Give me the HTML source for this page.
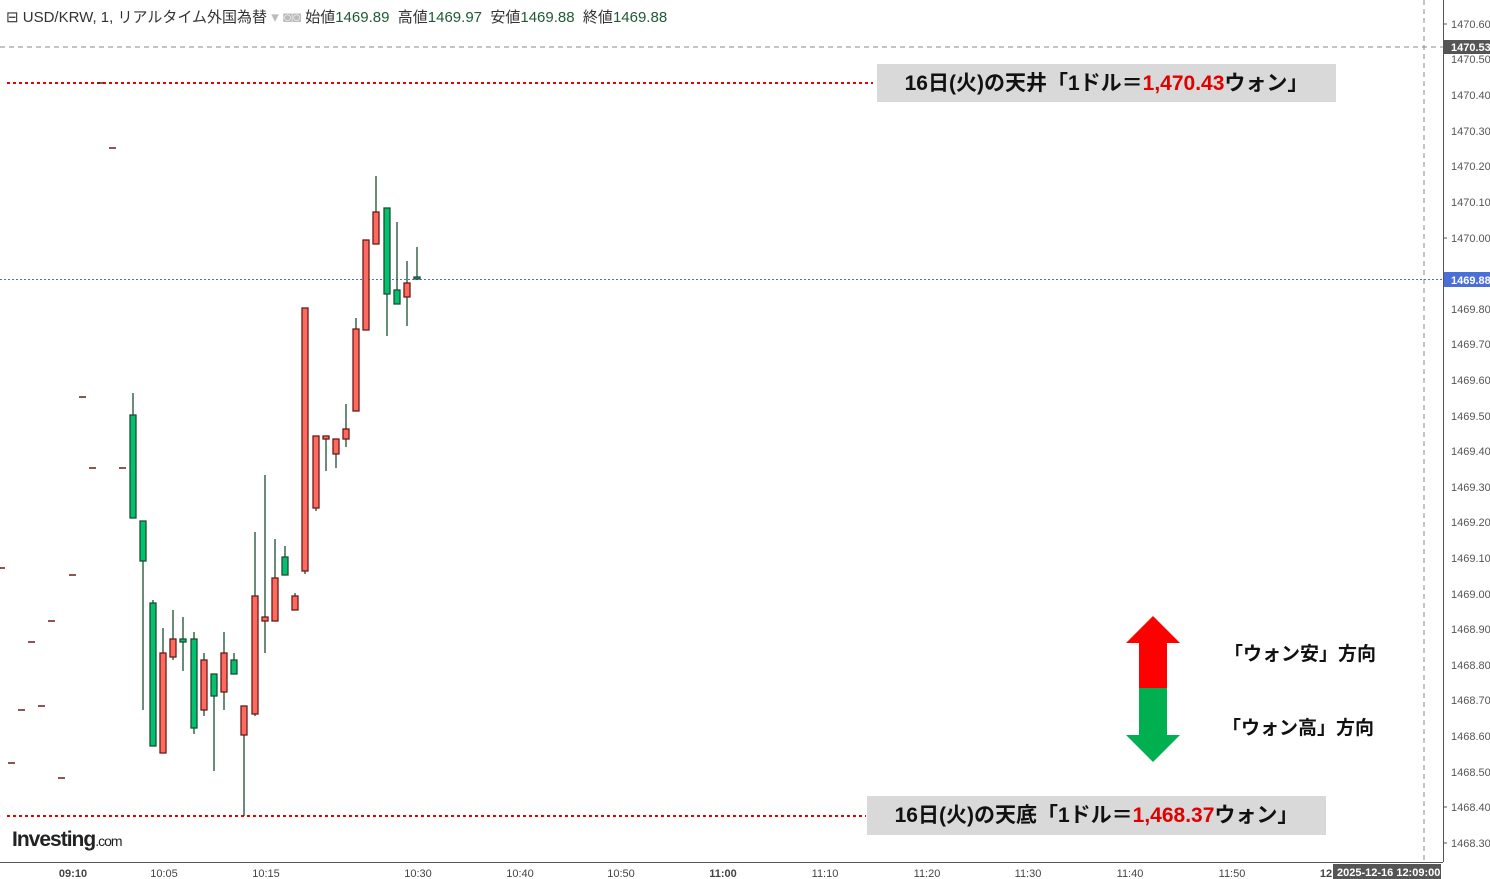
<!DOCTYPE html>
<html><head><meta charset="utf-8"><style>
body{margin:0;background:#fff;width:1490px;height:879px;overflow:hidden;position:relative;font-family:"Liberation Sans","Noto Sans CJK JP",sans-serif}
.hdr{position:absolute;left:6px;top:6px;font-size:15px;color:#333;white-space:nowrap}
.hdr .g{color:#1e5a33}
.box{position:absolute;background:#d9d9d9;font-weight:bold;font-size:21px;color:#111;text-align:center;line-height:39px;font-family:"Liberation Sans","Noto Sans CJK JP",sans-serif}
.box span{color:#e00000}
.lbl{position:absolute;font-size:19px;font-weight:bold;color:#111;font-family:"Noto Sans CJK JP",sans-serif}
</style></head><body>
<svg width="1490" height="879" style="position:absolute;left:0;top:0" font-family="Liberation Sans, sans-serif">
<line x1="0" y1="47" x2="1443" y2="47" stroke="#888" stroke-dasharray="5,4"/>
<line x1="1424" y1="0" x2="1424" y2="862" stroke="#888" stroke-dasharray="5,4"/>
<line x1="0" y1="279.5" x2="1443" y2="279.5" stroke="#4a6fd6" stroke-dasharray="2,2"/>
<line x1="7" y1="83" x2="873" y2="83" stroke="#e00" stroke-width="2" stroke-dasharray="3,3"/>
<line x1="7" y1="816" x2="866" y2="816" stroke="#e00" stroke-width="2" stroke-dasharray="3,3"/>
<line x1="1443.5" y1="0" x2="1443.5" y2="862" stroke="#555"/>
<line x1="0" y1="862.5" x2="1443" y2="862.5" stroke="#555"/>
<g stroke="#6b1a1a" stroke-width="1.5">
<line x1="0" y1="568" x2="5" y2="568"/><line x1="8" y1="763" x2="15" y2="763"/><line x1="18" y1="710" x2="25" y2="710"/><line x1="28" y1="642" x2="35" y2="642"/><line x1="38" y1="706" x2="45" y2="706"/><line x1="48" y1="621" x2="55" y2="621"/><line x1="58" y1="778" x2="65" y2="778"/><line x1="69" y1="575" x2="76" y2="575"/><line x1="79" y1="397" x2="86" y2="397"/><line x1="89" y1="468" x2="96" y2="468"/><line x1="97" y1="83" x2="104" y2="83"/><line x1="109" y1="148" x2="116" y2="148"/><line x1="119" y1="468" x2="126" y2="468"/>
</g>
<g id="c" stroke-width="1.3"></g>
<g font-size="11" fill="#555">
<text x="1451" y="28">1470.60</text><text x="1451" y="63">1470.50</text><text x="1451" y="99">1470.40</text><text x="1451" y="135">1470.30</text><text x="1451" y="170">1470.20</text><text x="1451" y="206">1470.10</text><text x="1451" y="242">1470.00</text><text x="1451" y="313">1469.80</text><text x="1451" y="348">1469.70</text><text x="1451" y="384">1469.60</text><text x="1451" y="420">1469.50</text><text x="1451" y="455">1469.40</text><text x="1451" y="491">1469.30</text><text x="1451" y="526">1469.20</text><text x="1451" y="562">1469.10</text><text x="1451" y="598">1469.00</text><text x="1451" y="633">1468.90</text><text x="1451" y="669">1468.80</text><text x="1451" y="704">1468.70</text><text x="1451" y="740">1468.60</text><text x="1451" y="776">1468.50</text><text x="1451" y="811">1468.40</text><text x="1451" y="847">1468.30</text>
</g>
<g stroke="#555"><line x1="1443" y1="24" x2="1447" y2="24"/><line x1="1443" y1="238" x2="1447" y2="238"/><line x1="1443" y1="807" x2="1447" y2="807"/><line x1="1443" y1="843" x2="1447" y2="843"/></g>
<rect x="1444" y="40" width="46" height="14" fill="#555"/><text x="1451" y="51" font-size="11" font-weight="bold" fill="#fff">1470.53</text>
<rect x="1444" y="272" width="46" height="15" fill="#4a6fd6"/><text x="1451" y="284" font-size="11" font-weight="bold" fill="#fff">1469.88</text>
<g font-size="11" fill="#444" text-anchor="middle">
<text x="73" y="877" font-weight="bold">09:10</text><text x="164" y="877">10:05</text><text x="266" y="877">10:15</text><text x="418" y="877">10:30</text><text x="520" y="877">10:40</text><text x="621" y="877">10:50</text><text x="723" y="877" font-weight="bold">11:00</text><text x="825" y="877">11:10</text><text x="927" y="877">11:20</text><text x="1028" y="877">11:30</text><text x="1130" y="877">11:40</text><text x="1232" y="877">11:50</text><text x="1326" y="877" font-weight="bold">12</text>
</g>
<rect x="1333" y="864" width="108" height="15" fill="#555"/><text x="1337" y="876" font-size="11" font-weight="bold" fill="#fff">2025-12-16 12:09:00</text>
<polygon points="1153,616 1180,643 1167,643 1167,688 1139,688 1139,643 1126,643" fill="#ff0000"/>
<polygon points="1139,688 1167,688 1167,735 1180,735 1153,762 1126,735 1139,735" fill="#00b050"/>
<text x="12" y="846" font-size="21" font-weight="bold" fill="#222" letter-spacing="-1">Investing<tspan font-size="14" font-weight="normal">.com</tspan></text>
</svg>
<div class="hdr">⊟ USD/KRW, 1, リアルタイム外国為替 <span style="color:#bbb">▾ ◙◙</span> 始値<span class="g">1469.89</span>&nbsp; 高値<span class="g">1469.97</span>&nbsp; 安値<span class="g">1469.88</span>&nbsp; 終値<span class="g">1469.88</span></div>
<div class="box" style="left:877px;top:64px;width:459px;height:38px">16日(火)の天井「1ドル＝<span>1,470.43</span>ウォン」</div>
<div class="box" style="left:867px;top:796px;width:459px;height:39px">16日(火)の天底「1ドル＝<span>1,468.37</span>ウォン」</div>
<div class="lbl" style="left:1224px;top:639px">「ウォン安」方向</div>
<div class="lbl" style="left:1222px;top:713px">「ウォン高」方向</div>
<script>
var d=[[133,393,518,415,518,0],[143,521,710,521,561,0],[153,600,746,603,746,0],[163,628,753,653,753,1],[173,610,660,639,657,1],[183,617,671,639,642,0],[194,632,734,639,728,0],[204,653,716,660,710,1],[214,674,771,674,696,0],[224,632,710,653,692,1],[234,653,674,660,674,0],[244,706,816,706,735,1],[255,532,716,596,714,1],[265,475,653,617,621,1],[275,539,621,578,621,1],[285,546,575,557,575,0],[295,593,610,596,610,1],[305,308,574,308,571,1],[316,436,511,436,508,1],[326,436,471,436,439,1],[336,439,468,439,454,1],[346,404,447,429,439,1],[356,318,411,329,411,1],[366,240,330,240,330,1],[376,176,244,212,244,1],[387,208,336,208,294,0],[397,222,304,290,304,0],[407,261,326,283,297,1],[417,247,279,277,279,0]];
var g=document.getElementById('c'),s='';
d.forEach(function(c){var x=c[0];s+='<line x1="'+x+'" y1="'+c[1]+'" x2="'+x+'" y2="'+c[2]+'" stroke="#1d4d33"/>';
s+='<rect x="'+(x-3)+'" y="'+c[3]+'" width="6" height="'+Math.max(2,c[4]-c[3])+'" fill="'+(c[5]?'#ff6a5f':'#00c26e')+'" stroke="'+(c[5]?'#6b1a1a':'#1d4d33')+'"/>';});
g.innerHTML=s;
</script>
</body></html>
